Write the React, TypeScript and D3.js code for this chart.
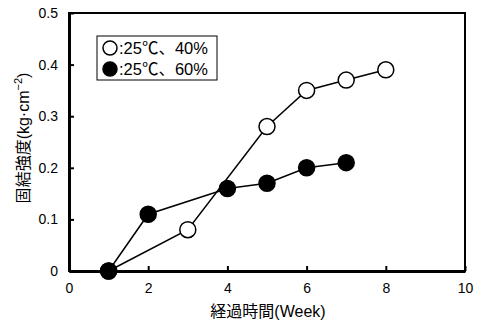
import React, { useEffect, useRef } from 'react';
import * as d3 from 'd3';

const weeksOpen = [1, 3, 5, 6, 7, 8];
const valuesOpen = [0, 0.08, 0.28, 0.35, 0.37, 0.39];
const weeksFilled = [1, 2, 4, 5, 6, 7];
const valuesFilled = [0, 0.11, 0.16, 0.17, 0.2, 0.21];
const xTicks = [0, 2, 4, 6, 8, 10];
const yTicks = [0, 0.1, 0.2, 0.3, 0.4, 0.5];
const legendLabels = [':25℃、40%', ':25℃、60%'];

const App: React.FC = () => {
  const svgRef = useRef<SVGSVGElement | null>(null);

  useEffect(() => {
    if (!svgRef.current) return;
    const svg = d3.select(svgRef.current);
    svg.selectAll('*').remove();

    const font = 'Arial, "Liberation Sans", "Noto Sans CJK JP", sans-serif';
    const left = 69, right = 465, top = 13, bottom = 271;

    const x = d3.scaleLinear().domain([0, 10]).range([left, right]);
    const y = d3.scaleLinear().domain([0, 0.5]).range([bottom, top]);

    // Frame
    svg.append('rect')
      .attr('x', left).attr('y', top)
      .attr('width', right - left).attr('height', bottom - top)
      .attr('fill', 'none').attr('stroke', '#000').attr('stroke-width', 2);

    // Axes with inward ticks
    const xAxis = svg.append('g')
      .attr('transform', `translate(0,${bottom})`)
      .call(d3.axisBottom(x).tickValues(xTicks).tickSizeInner(-5).tickSizeOuter(0).tickPadding(12).tickFormat(d3.format('d')));
    xAxis.select('.domain').attr('stroke-width', 3);
    xAxis.selectAll('line').attr('stroke-width', 2);
    xAxis.selectAll('text').style('font-size', '14px').style('font-family', font).attr('fill', '#000');

    const yAxis = svg.append('g')
      .attr('transform', `translate(${left},0)`)
      .call(d3.axisLeft(y).tickValues(yTicks).tickSizeInner(-5).tickSizeOuter(0).tickPadding(11)
        .tickFormat(d => (d === 0 ? '0' : d3.format('.1f')(d as number))));
    yAxis.select('.domain').attr('stroke-width', 3);
    yAxis.selectAll('line').attr('stroke-width', 2);
    yAxis.selectAll('text').style('font-size', '14px').style('font-family', font).attr('fill', '#000');

    // Axis titles
    svg.append('text')
      .attr('x', 268).attr('y', 317)
      .attr('text-anchor', 'middle')
      .style('font-size', '16px').style('font-family', font)
      .text('経過時間(Week)');

    const yt = svg.append('text')
      .attr('transform', `translate(29,138) rotate(-90)`)
      .attr('text-anchor', 'middle')
      .style('font-size', '16px').style('font-family', font);
    yt.append('tspan').text('固結強度(kg·cm');
    yt.append('tspan').attr('dy', -7).style('font-size', '11px').text('−2');
    yt.append('tspan').attr('dy', 7).text(')');

    const line = d3.line<[number, number]>().x(d => x(d[0])).y(d => y(d[1]));

    const series = [
      { xs: weeksOpen, ys: valuesOpen, fill: '#fff' },
      { xs: weeksFilled, ys: valuesFilled, fill: '#000' },
    ];

    series.forEach(s => {
      const pts = s.xs.map((w, i) => [w, s.ys[i]] as [number, number]);
      svg.append('path')
        .attr('d', line(pts))
        .attr('fill', 'none').attr('stroke', '#000').attr('stroke-width', 1.5);
    });
    series.forEach(s => {
      const pts = s.xs.map((w, i) => [w, s.ys[i]] as [number, number]);
      svg.selectAll(null)
        .data(pts)
        .enter().append('circle')
        .attr('cx', d => x(d[0])).attr('cy', d => y(d[1]))
        .attr('r', 8)
        .attr('fill', s.fill).attr('stroke', '#000').attr('stroke-width', 1.5);
    });

    // Legend
    svg.append('rect')
      .attr('x', 97).attr('y', 36).attr('width', 120).attr('height', 44)
      .attr('fill', '#fff').attr('stroke', '#000').attr('stroke-width', 1);
    legendLabels.forEach((lab, i) => {
      const cy = 48 + i * 21;
      svg.append('circle')
        .attr('cx', 110).attr('cy', cy).attr('r', 7)
        .attr('fill', i === 0 ? '#fff' : '#000').attr('stroke', '#000').attr('stroke-width', 1.5);
      svg.append('text')
        .attr('x', 119).attr('y', cy + 6)
        .style('font-size', '16.5px').style('font-family', font)
        .text(lab);
    });
  }, []);

  return (
    <div style={{ position: 'absolute', left: 0, top: 0 }}>
      <svg ref={svgRef} width={477} height={324} style={{ display: 'block', background: '#fff' }} />
    </div>
  );
};

export default App;
